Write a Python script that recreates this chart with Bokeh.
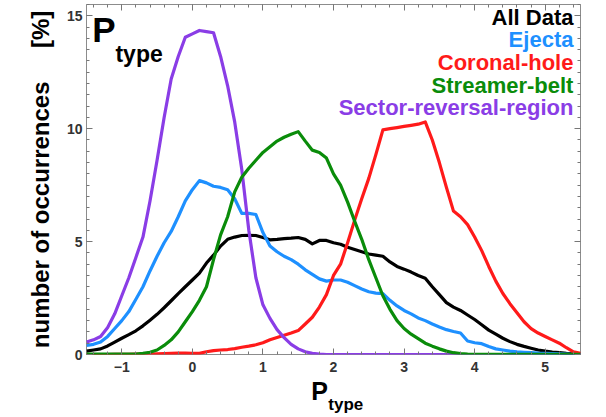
from math import pi
from bokeh.plotting import figure
from bokeh.models import Range1d, LinearAxis, Label, SingleIntervalTicker, CustomJSTickFormatter
from bokeh.embed import file_html
from bokeh.resources import INLINE

# ---- data ----
p_type = [-1.5, -1.4, -1.3, -1.2, -1.1, -1.0, -0.9, -0.8, -0.7, -0.6,
          -0.5, -0.4, -0.3, -0.2, -0.1, 0.0, 0.1, 0.2, 0.3, 0.4,
          0.5, 0.6, 0.7, 0.8, 0.9, 1.0, 1.1, 1.2, 1.3, 1.4,
          1.5, 1.6, 1.7, 1.8, 1.9, 2.0, 2.1, 2.2, 2.3, 2.4,
          2.5, 2.6, 2.7, 2.8, 2.9, 3.0, 3.1, 3.2, 3.3, 3.4,
          3.5, 3.6, 3.7, 3.8, 3.9, 4.0, 4.1, 4.2, 4.3, 4.4,
          4.5, 4.6, 4.7, 4.8, 4.9, 5.0, 5.1, 5.2, 5.3, 5.4, 5.5]

all_data = [0.15, 0.2, 0.25, 0.38, 0.55, 0.72, 0.88, 1.05, 1.27, 1.52,
            1.78, 2.07, 2.38, 2.7, 3.0, 3.3, 3.6, 4.05, 4.4, 4.8,
            5.1, 5.2, 5.27, 5.28, 5.27, 5.18, 5.08, 5.1, 5.13, 5.15,
            5.18, 5.1, 4.9, 5.05, 5.05, 4.95, 4.88, 4.75, 4.65, 4.55,
            4.45, 4.4, 4.35, 4.1, 3.9, 3.78, 3.65, 3.5, 3.38, 3.0,
            2.65, 2.3, 2.1, 1.95, 1.75, 1.55, 1.32, 1.08, 0.9, 0.72,
            0.57, 0.45, 0.36, 0.28, 0.2, 0.15, 0.11, 0.08, 0.05, 0.03, 0.02]

ejecta = [0.4, 0.45, 0.55, 0.8, 1.15, 1.5, 1.9, 2.45, 3.0, 3.7,
          4.35, 4.95, 5.45, 6.1, 6.8, 7.3, 7.7, 7.6, 7.45, 7.4,
          7.3, 6.9, 6.25, 6.25, 6.2, 5.4, 4.8, 4.55, 4.35, 4.2,
          4.0, 3.75, 3.55, 3.35, 3.25, 3.3, 3.3, 3.2, 3.05, 2.9,
          2.78, 2.72, 2.7, 2.4, 2.15, 1.95, 1.8, 1.62, 1.5, 1.35,
          1.22, 1.1, 1.02, 0.95, 0.6, 0.52, 0.48, 0.35, 0.25, 0.2,
          0.15, 0.12, 0.1, 0.08, 0.06, 0.05, 0.04, 0.03, 0.02, 0.01, 0.0]

coronal_hole = [0.0, 0.0, 0.0, 0.0, 0.01, 0.01, 0.01, 0.02, 0.02, 0.02,
                0.03, 0.04, 0.05, 0.06, 0.06, 0.05, 0.05, 0.12, 0.17, 0.2,
                0.22, 0.26, 0.32, 0.37, 0.43, 0.52, 0.65, 0.75, 0.85, 0.95,
                1.06, 1.35, 1.65, 2.1, 2.65, 3.5, 4.0, 4.95, 5.95, 6.9,
                7.8, 8.85, 9.95, 10.0, 10.05, 10.1, 10.15, 10.2, 10.3, 9.5,
                8.5, 7.4, 6.35, 6.1, 5.75, 5.2, 4.6, 3.9, 3.25, 2.7,
                2.25, 1.85, 1.45, 1.15, 0.95, 0.8, 0.65, 0.5, 0.3, 0.12, 0.05]

streamer_belt = [0.02, 0.02, 0.02, 0.02, 0.02, 0.02, 0.02, 0.02, 0.05, 0.1,
                 0.2, 0.4, 0.65, 1.0, 1.45, 1.9, 2.4, 3.0, 4.2, 5.3,
                 6.1, 7.2, 7.85, 8.25, 8.6, 8.95, 9.2, 9.45, 9.62, 9.75,
                 9.87, 9.45, 9.05, 8.95, 8.7, 8.0, 7.5, 6.75, 5.9, 5.1,
                 4.2, 3.4, 2.6, 2.0, 1.5, 1.15, 0.9, 0.7, 0.5, 0.37,
                 0.25, 0.15, 0.08, 0.04, 0.02, 0.01, 0.01, 0.01, 0.01, 0.01,
                 0.01, 0.01, 0.01, 0.01, 0.01, 0.01, 0.01, 0.01, 0.01, 0.01, 0.01]

sector_reversal = [0.55, 0.65, 0.8, 1.2, 1.8, 2.6, 3.4, 4.3, 5.2, 6.8,
                   8.6, 10.5, 12.2, 13.2, 14.05, 14.2, 14.35, 14.3, 14.25, 13.2,
                   11.9, 10.3, 8.2, 5.5, 3.4, 2.2, 1.6, 1.1, 0.75, 0.45,
                   0.25, 0.12, 0.05, 0.02, 0.0, 0.0, 0.0, 0.0, 0.0, 0.0,
                   0.0, 0.0, 0.0, 0.0, 0.0, 0.0, 0.0, 0.0, 0.0, 0.0,
                   0.0, 0.0, 0.0, 0.0, 0.0, 0.0, 0.0, 0.0, 0.0, 0.0,
                   0.0, 0.0, 0.0, 0.0, 0.0, 0.0, 0.0, 0.0, 0.0, 0.0, 0.0]

series_names = ["All Data", "Ejecta", "Coronal-hole", "Streamer-belt", "Sector-reversal-region"]
series_colors = ["#000000", "#1e90ff", "#ff1a1a", "#0a8c0a", "#8a3de6"]

FONT = "Liberation Sans"

p = figure(width=606, height=417, output_backend="svg", toolbar_location=None,
           x_range=Range1d(-1.5, 5.5), y_range=Range1d(0, 15.5),
           min_border_left=86, min_border_right=26, min_border_top=4, min_border_bottom=63)
p.grid.visible = False
p.outline_line_color = "#8c8c8c"
p.outline_line_width = 1

xt = SingleIntervalTicker(interval=1, num_minor_ticks=5)
yt = SingleIntervalTicker(interval=5, num_minor_ticks=10)
p.xaxis.ticker = xt
p.yaxis.ticker = yt

for ax in (p.xaxis[0], p.yaxis[0]):
    ax.axis_line_color = None
    ax.major_tick_in = 6
    ax.major_tick_out = 0
    ax.minor_tick_in = 3
    ax.minor_tick_out = 0
    ax.major_tick_line_color = "#777777"
    ax.minor_tick_line_color = "#777777"
    ax.major_label_text_font = FONT
    ax.major_label_text_font_style = "bold"
    ax.major_label_text_font_size = "14px"
    ax.major_label_text_color = "#333333"
p.xaxis.major_label_standoff = 7
p.yaxis.major_label_standoff = 4

p.yaxis.axis_label = "number of occurrences\u00a0\u00a0\u00a0\u00a0\u00a0[%]"
p.yaxis.axis_label_text_font = FONT
p.yaxis.axis_label_text_font_style = "bold"
p.yaxis.axis_label_text_font_size = "24px"
p.yaxis.axis_label_text_color = "#000000"
p.yaxis.axis_label_standoff = 10

blank = CustomJSTickFormatter(code="return ''")
for loc, tk in (("above", xt), ("right", yt)):
    ax = LinearAxis(ticker=tk, formatter=blank, axis_line_color=None, major_tick_in=6,
                    major_tick_out=0, minor_tick_in=3, minor_tick_out=0,
                    major_tick_line_color="#777777", minor_tick_line_color="#777777",
                    major_label_standoff=0)
    p.add_layout(ax, loc)

series = [all_data, ejecta, coronal_hole, sector_reversal, streamer_belt]
order_colors = [series_colors[0], series_colors[1], series_colors[2], series_colors[4], series_colors[3]]
for ys, c in zip(series, order_colors):
    p.line(p_type, ys, line_color=c, line_width=3.2, line_join="round")

# legend as coloured right-aligned texts
for i, (name, c) in enumerate(zip(series_names, series_colors)):
    p.add_layout(Label(x=5.40, y=14.93 - 1.0 * i, text=name, text_color=c,
                       text_font=FONT, text_font_style="bold", text_font_size="22px",
                       text_align="right", text_baseline="alphabetic"))

# panel title P_type
p.add_layout(Label(x=-1.42, y=14.39, text="P", text_color="#000000", text_font=FONT,
                   text_font_style="bold", text_font_size="35px", text_align="left",
                   text_baseline="alphabetic"))
p.add_layout(Label(x=-1.09, y=13.30, text="type", text_color="#000000", text_font=FONT,
                   text_font_style="bold", text_font_size="23px", text_align="left",
                   text_baseline="alphabetic"))

# x axis title P_type (placed in side panels so it is not clipped by the frame)
p.add_layout(Label(x=1.686, y=-1.60, text="P", text_color="#000000", text_font=FONT,
                   text_font_style="bold", text_font_size="25px", text_align="left",
                   text_baseline="alphabetic"), "left")
p.add_layout(Label(x=1.927, y=-2.22, text="type", text_color="#000000", text_font=FONT,
                   text_font_style="bold", text_font_size="17px", text_align="left",
                   text_baseline="alphabetic"), "below")

open("out.html", "w").write(file_html(p, INLINE))
